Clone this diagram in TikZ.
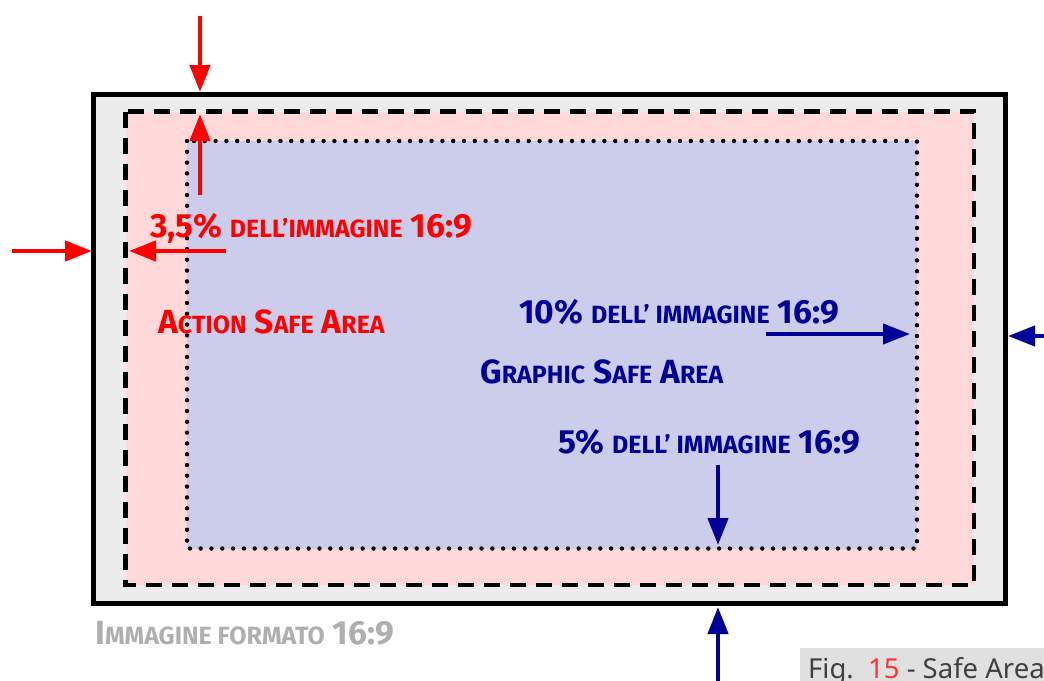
\documentclass[tikz,border=0pt]{standalone}
\usepackage{fontspec}
\usepackage{graphicx}
\setmainfont{Fira Sans}
\setsansfont{Fira Sans}
\newfontfamily\capfont{Noto Sans}
\usetikzlibrary{arrows.meta}
\definecolor{redc}{RGB}{255,0,0}
\definecolor{bluec}{RGB}{0,0,153}
\definecolor{grayt}{RGB}{175,175,175}
\definecolor{outerfill}{RGB}{236,236,236}
\definecolor{pinkfill}{RGB}{255,217,217}
\definecolor{bluefill}{RGB}{204,204,235}
\definecolor{capbox}{RGB}{224,224,224}
\newcommand\smc[1]{\scalebox{0.745}{#1}}
\tikzset{
  frame/.style={draw=black, line width=5pt, fill=outerfill},
  actbox/.style={draw=black, line width=4.4pt, fill=pinkfill, dash pattern=on 16pt off 10pt},
  grbox/.style={draw=black, line width=4.4pt, fill=bluefill, dash pattern=on 0pt off 10.8pt, line cap=round},
  redarr/.style={draw=redc, line width=4.4pt, -{Triangle[length=27pt,width=20pt]}},
  bluearr/.style={draw=bluec, line width=4.2pt, -{Triangle[length=27pt,width=20pt]}},
  lbl/.style={anchor=base west, inner sep=0pt, font=\fontsize{33.5}{38}\selectfont\bfseries},
}
\begin{document}
\begin{tikzpicture}[x=1pt,y=-1pt]
\useasboundingbox (0,0) rectangle (1044,680);
% rectangles
\coordinate (o1) at (93,94); \coordinate (o2) at (1005,603);
\coordinate (a1) at (125.5,111.5); \coordinate (a2) at (974,585);
\coordinate (g1) at (187,141); \coordinate (g2) at (917,548.5);
\path[frame] (o1) rectangle (o2);
\path[actbox] (a1) rectangle (a2);
\path[grbox] (g1) rectangle (g2);
% red arrows
\coordinate (r1s) at (200,16); \coordinate (r1e) at (200,92);
\coordinate (r2s) at (200,195); \coordinate (r2e) at (200,114);
\coordinate (r3s) at (12,251); \coordinate (r3e) at (92,251);
\coordinate (r4s) at (226,251); \coordinate (r4e) at (129,251);
\draw[redarr] (r1s) -- (r1e);
\draw[redarr] (r2s) -- (r2e);
\draw[redarr] (r3s) -- (r3e);
\draw[redarr] (r4s) -- (r4e);
% blue arrows
\coordinate (b1s) at (766,334); \coordinate (b1e) at (910,334);
\coordinate (b2s) at (1050,336); \coordinate (b2e) at (1008,336);
\coordinate (b3s) at (718,465); \coordinate (b3e) at (718,545);
\coordinate (b4s) at (718,682); \coordinate (b4e) at (718,607);
\draw[bluearr] (b1s) -- (b1e);
\draw[bluearr] (b2s) -- (b2e);
\draw[bluearr] (b3s) -- (b3e);
\draw[bluearr] (b4s) -- (b4e);
% labels
\node[lbl, text=redc] (t35) at (150,237) {3,5\% \smc{DELL’IMMAGINE} 16:9};
\node[lbl, text=redc] (tact) at (158,333) {A\smc{CTION} S\smc{AFE} A\smc{REA}};
\node[lbl, text=bluec] (t10) at (519,323) {10\% \smc{DELL’ IMMAGINE} 16:9};
\node[lbl, text=bluec] (tgr) at (480,383) {G\smc{RAPHIC} S\smc{AFE} A\smc{REA}};
\node[lbl, text=bluec] (t5) at (558,453) {5\% \smc{DELL’ IMMAGINE} 16:9};
\node[lbl, text=grayt] (tfmt) at (95,644) {I\smc{MMAGINE FORMATO} 16:9};
% caption
\fill[capbox] (800,648) rectangle (1060,690);
\node[anchor=base west, inner sep=0pt, font=\capfont\fontsize{27.5}{30}\selectfont, text=black!75] (cap) at (808,678) {Fig.\ \ \textcolor{redc!80}{15} - Safe Areas};
\end{tikzpicture}
\end{document}
